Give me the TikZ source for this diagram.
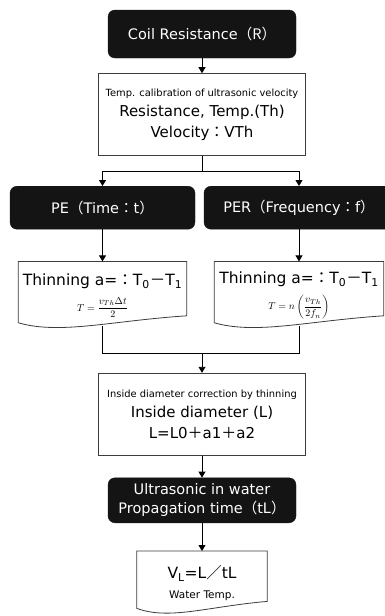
\documentclass[tikz,border=0pt]{standalone}
\usepackage[no-math]{fontspec}
\setmainfont{DejaVu Sans}
\newfontfamily\cjk{Noto Sans CJK JP}
\usetikzlibrary{positioning,arrows.meta,calc}
\definecolor{InkBlack}{RGB}{20,20,20}
\definecolor{FrameGray}{RGB}{60,60,60}
\tikzset{
  flow/.style={-{Triangle[length=6pt,width=7pt]},line width=0.9pt,draw=black},
  link/.style={line width=0.9pt,draw=black},
  darkbox/.style={draw=InkBlack,fill=InkBlack,text=white,rounded corners=7pt,
    align=center,font=\fontsize{14.5}{19}\selectfont},
  plainbox/.style={draw=FrameGray,line width=0.8pt,fill=white,align=center,
    font=\fontsize{15}{20.5}\selectfont},
  docbox/.style={align=center,font=\fontsize{15.5}{20}\selectfont}
}
\newcommand{\fw}[1]{{\cjk #1}}
\newcommand{\smallline}[1]{{\fontsize{9.9}{12}\selectfont #1}}
\newcommand{\docframe}[1]{%
  \draw[draw=FrameGray,line width=0.8pt] (#1.north west) -- (#1.north east)
    -- ([yshift=14pt]#1.south east)
    .. controls ($(#1.south west)!0.55!(#1.south east)+(0,9pt)$)
    and ($(#1.south west)!0.25!(#1.south east)+(0,-5pt)$) .. ([yshift=7pt]#1.south west)
    -- cycle;}

\begin{document}
\begin{tikzpicture}
  \useasboundingbox[fill=white] (0,0) rectangle (384pt,-616pt);
  % resistance and calibration
  \node[darkbox,minimum width=188pt,minimum height=48pt] (coil) at (202pt,-34pt) {Coil Resistance\fw{（R）}};
  \node[plainbox,below=15pt of coil,minimum width=207pt,minimum height=82pt] (calib)
    {\smallline{Temp. calibration of ultrasonic velocity}\\ Resistance, Temp.(Th)\\ Velocity\fw{：}VTh};
  \coordinate[below=15pt of calib] (split);
  \node[darkbox,below=30pt of calib,xshift=-99.5pt,minimum width=185pt,minimum height=43pt] (pe) {PE\fw{（}Time\fw{：}t\fw{）}};
  \node[darkbox,below=30pt of calib,xshift=97pt,minimum width=190pt,minimum height=43pt] (per) {PER\fw{（}Frequency\fw{：}f\fw{）}};
  % thinning
  \node[docbox,below=32pt of pe,minimum width=168pt,minimum height=68pt] (thinpe)
    {Thinning a=\fw{：}T\textsubscript{0}\fw{－}T\textsubscript{1}\\[6pt]
     {\fontsize{10}{12}\selectfont $\displaystyle T=\frac{v_{Th}\Delta t}{2}$}};
  \node[docbox,below=32pt of per,minimum width=169pt,minimum height=68pt] (thinper)
    {Thinning a=\fw{：}T\textsubscript{0}\fw{－}T\textsubscript{1}\\[6pt]
     {\fontsize{10}{12}\selectfont $\displaystyle T=n\left(\frac{v_{Th}}{2f_n}\right)$}};
  \docframe{thinpe}
  \docframe{thinper}
  \coordinate (join) at ($(calib.south |- thinpe.south)+(0,-24pt)$);
  % inside diameter and water
  \node[plainbox,below=19pt of join,minimum width=207pt,minimum height=82pt] (inner)
    {\smallline{Inside diameter correction by thinning}\\ Inside diameter (L)\\ L=L0\fw{＋}a1\fw{＋}a2};
  \node[darkbox,below=22pt of inner,minimum width=188pt,minimum height=45pt] (prop)
    {Ultrasonic in water\\ Propagation time\fw{（}tL\fw{）}};
  \node[docbox,below=28pt of prop,minimum width=130pt,minimum height=64pt] (vel)
    {V\textsubscript{L}=L\fw{／}tL\\ {\fontsize{10.5}{13}\selectfont Water Temp.}};
  \docframe{vel}

  \draw[flow] (coil) -- (calib);
  \draw[link] (calib) -- (split);
  \draw[flow] (split) -| (pe);
  \draw[flow] (split) -| (per);
  \draw[flow] (pe) -- (thinpe);
  \draw[flow] (per) -- (thinper);
  \draw[link] ([yshift=4pt]thinpe.south) |- (join) -| ([yshift=4pt]thinper.south);
  \draw[flow] (join) -- (inner);
  \draw[flow] (inner) -- (prop);
  \draw[flow] (prop) -- (vel);
\end{tikzpicture}
\end{document}
